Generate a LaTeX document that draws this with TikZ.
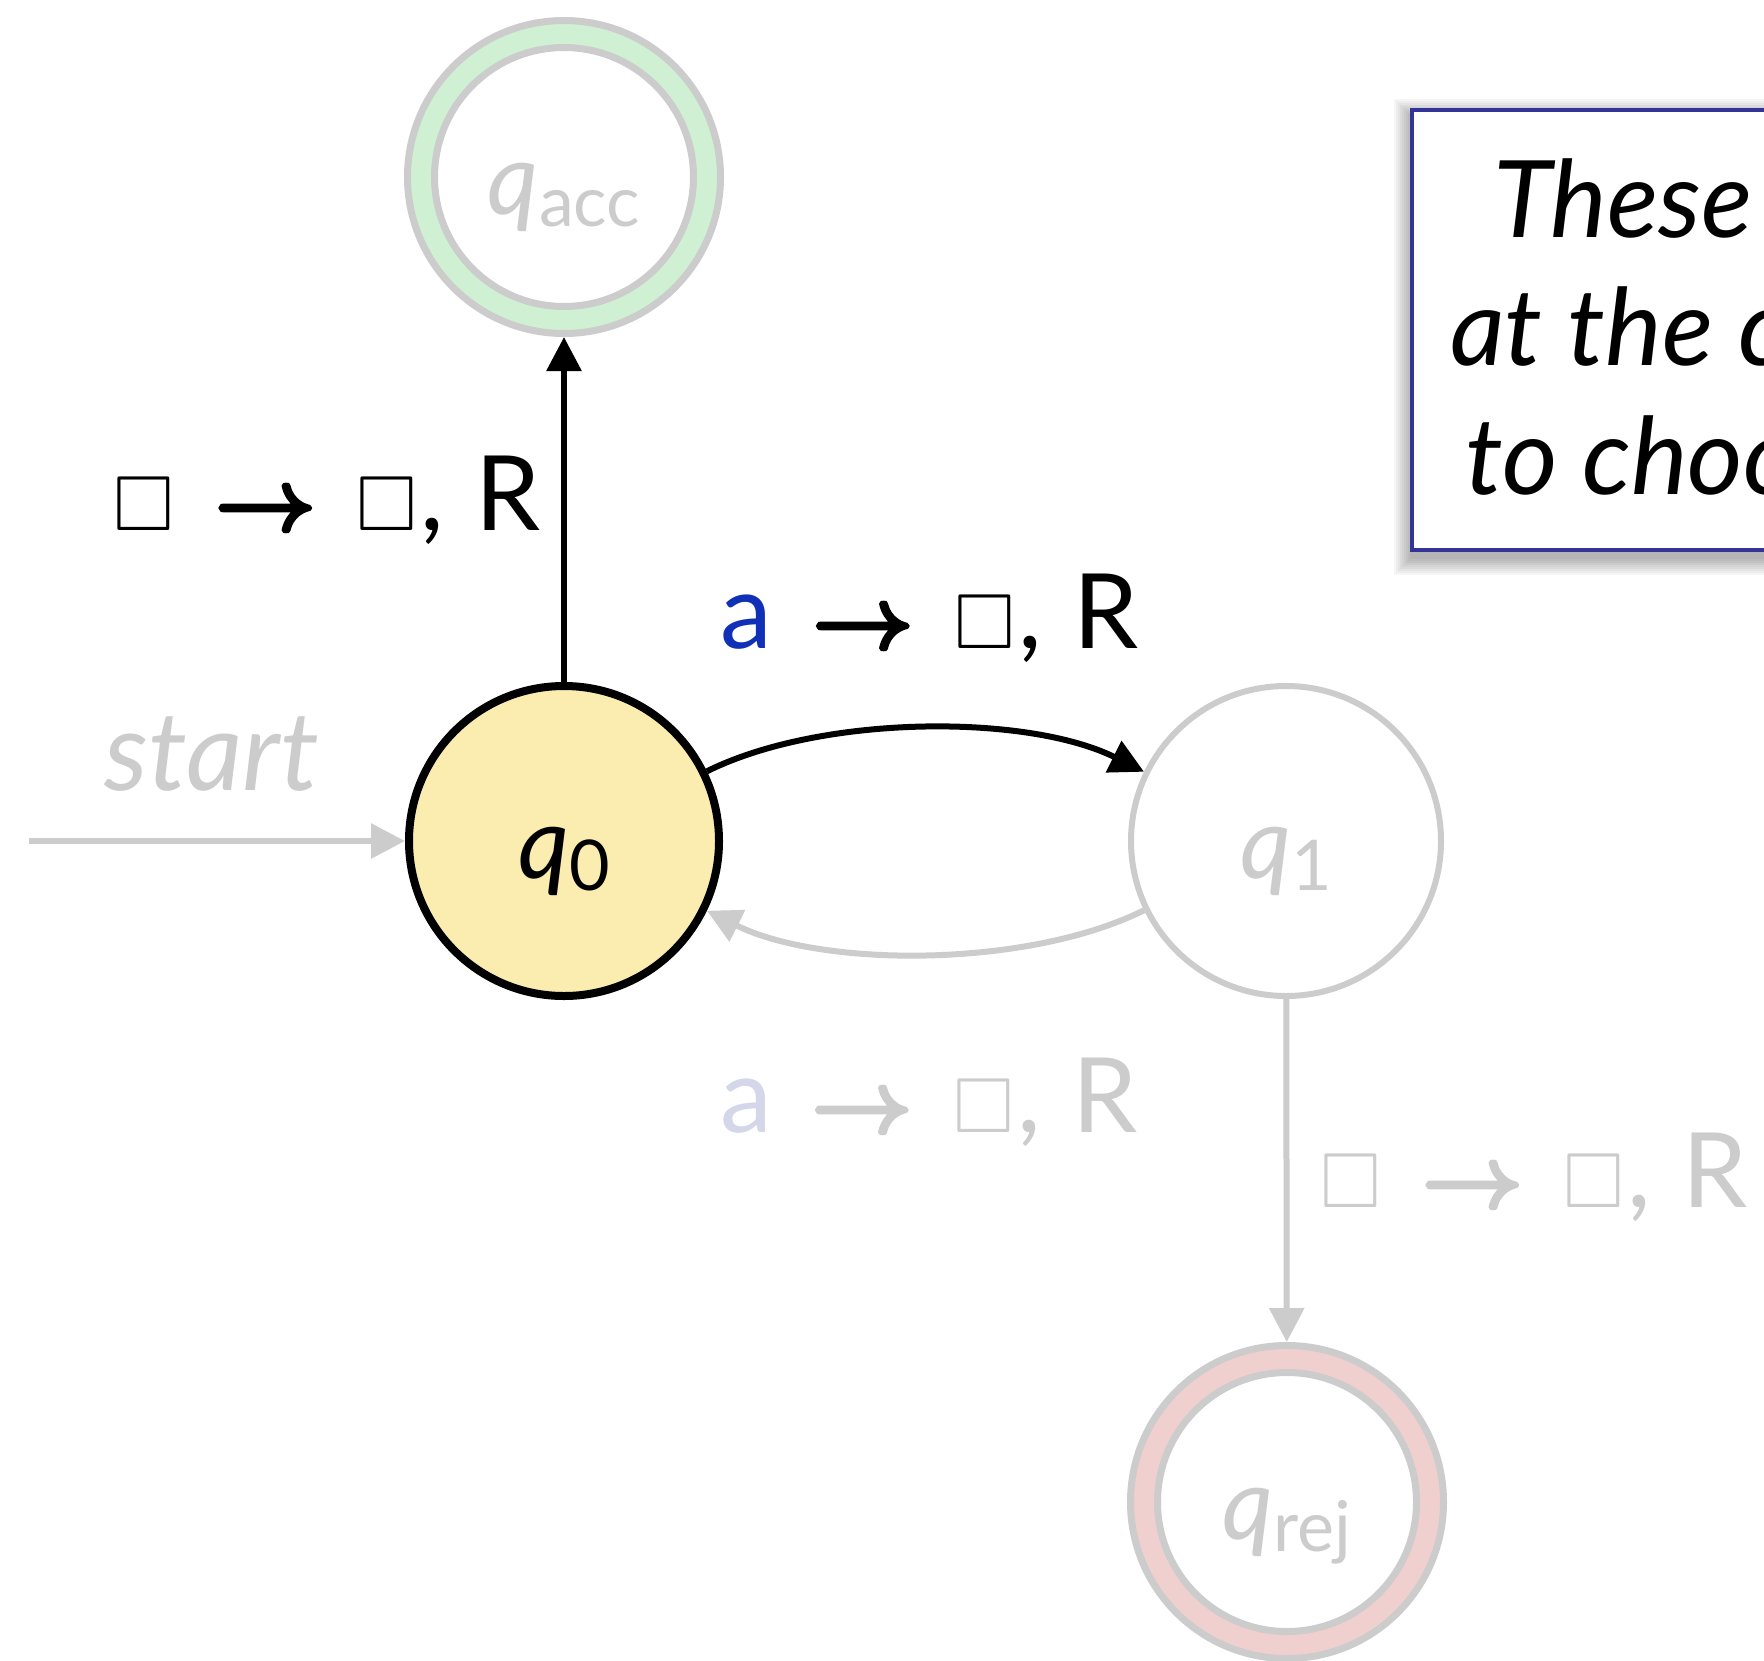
\RequirePackage{fix-cm}
\documentclass[tikz,border=0pt]{standalone}
\usepackage{amssymb}
\usepackage{bm}
\usepackage{fontspec}
\setmainfont{Lato}
\usetikzlibrary{arrows.meta}
\definecolor{lgray}{HTML}{CCCCCC}
\definecolor{qyellow}{HTML}{FBEDB0}
\definecolor{accgreen}{HTML}{CFF0D2}
\definecolor{rejpink}{HTML}{F0D0CE}
\definecolor{ablue}{HTML}{1030B8}
\definecolor{alight}{HTML}{D4D6EA}
\definecolor{boxblue}{HTML}{333399}
\newcommand\blank{{\fontsize{78}{78}\selectfont$\square$}}
\newcommand\arr{{\fontsize{88}{88}\selectfont\special{pdf:literal direct 2 Tr 3.5 w 0 j}$\bm{\rightarrow}$\special{pdf:literal direct 0 Tr 1 w}}}
% transition label: first symbol, then -> blank , R at fixed offsets
\newcommand\trans[2]{\rlap{#1}\hspace{#2pt}\rlap{\arr}\hspace{142pt}\rlap{\blank}\hspace{64pt}\rlap{,}\hspace{55pt}R}
\newcommand\stlab[2]{\raisebox{-37pt}[0pt][0pt]{\fontsize{100}{100}\selectfont\textit{#1}\raisebox{-12pt}{\fontsize{70}{70}\selectfont #2}}}
\tikzset{
  state/.style={circle, inner sep=0pt, minimum size=310pt, line width=7pt},
  ring/.style={circle, inner sep=0pt, minimum size=313pt, line width=7pt, draw=lgray},
  inring/.style={circle, inner sep=0pt, minimum size=259pt, line width=7pt, draw=lgray, fill=white, text=lgray},
  edgeblk/.style={line width=6pt, draw=black, -{Triangle[length=34pt,width=34pt]}},
  edgegry/.style={line width=6pt, draw=lgray, -{Triangle[length=34pt,width=34pt]}},
  lab/.style={inner sep=0pt, font=\fontsize{104}{104}\selectfont, anchor=base west},
}
\begin{document}
\begin{tikzpicture}[x=1pt,y=-1pt]
\useasboundingbox[fill=white] (0,0) rectangle (1764,1660);
% note box with shadow
\foreach \i in {1,...,9}
  \fill[black, opacity=0.035] ({1412-2*\i},{117-2*\i}) rectangle ({1800+2*\i},{557+2*\i});
\draw[line width=4pt, draw=boxblue, fill=white] (1412,110) rectangle (1800,550);
\node[inner sep=0pt, anchor=north west, align=left, font=\fontsize{107}{128.5}\selectfont\itshape] (note) at (1450,158)
  {\hspace*{43pt}These\\at the c\\\hspace*{15pt}to choo};
% states
\node[state, draw=black, line width=8pt, fill=qyellow] (q0) at (564,841) {\stlab{q}{0}};
\node[ring, fill=accgreen] (qacc) at (564,177) {};
\node[inring] (qacci) at (564,177) {\stlab{q}{acc}};
\node[state, draw=lgray, line width=6pt, fill=white, text=lgray] (q1) at (1286,841) {\stlab{q}{1}};
\node[ring, fill=rejpink] (qrej) at (1287,1502) {};
\node[inring] (qreji) at (1287,1502) {\stlab{q}{rej}};
% start
\coordinate (s0) at (29,841);
\draw[edgegry] (s0) -- (q0);
\node[lab, text=lgray, font=\fontsize{110}{110}\selectfont] (startlab) at (104,790) {\textit{start}};
% edges
\draw[edgeblk] (q0) -- (qacc);
\draw[edgeblk] (q0.26) .. controls (822,714) and (1028,714) .. (q1.154);
\draw[edgegry] (q1.206) .. controls (1028,968) and (822,968) .. (q0.334);
\draw[edgegry] (q1) -- (qrej);
% labels
\node[lab] (l1) at (113.5,530) {\trans{\blank}{101}};
\node[lab] (l2) at (720,648) {\trans{\textcolor{ablue}{a}}{92}};
\node[lab, text=lgray] (l3) at (720,1132) {\trans{\textcolor{alight}{a}}{91}};
\node[lab, text=lgray] (l4) at (1320.5,1207) {\trans{\blank}{101}};
\end{tikzpicture}
\end{document}
